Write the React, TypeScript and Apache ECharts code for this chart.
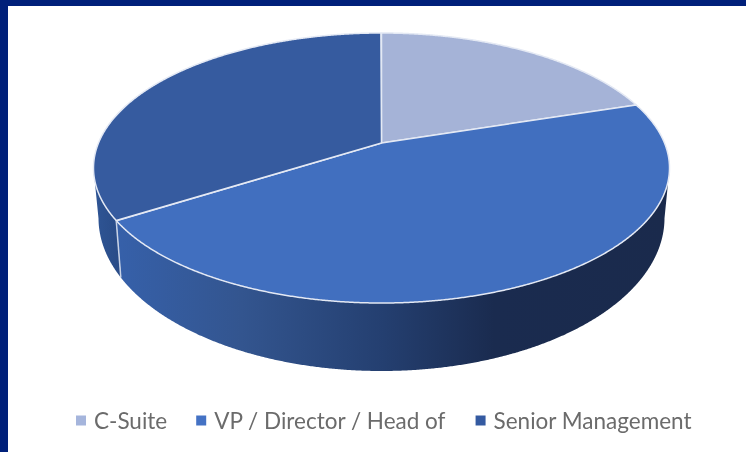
import React, { useEffect, useRef } from "react";
import * as echarts from "echarts";

const categories = ["C-Suite", "VP / Director / Head of", "Senior Management"];
const shares = [20, 46, 34];
const topColors = ["#a5b3d7", "#416fbf", "#365b9f"];
const legendColors = ["#a5b5dc", "#4472c4", "#345aa1"];

const CX = 381.5, CY = 168, RX = 288, RY = 135;
const BCY = 218, BRX = 283, BRY = 153;
const K = 25 / 135;
const S = Math.sqrt(1 - K * K);

function project(deg: number) {
  const a = (deg * Math.PI) / 180;
  const x = Math.sin(a), y = Math.cos(a);
  const d = 1 + K * y;
  return { X: (x * S) / d, Y: (y + K) / d };
}
const topPt = (p: any) => [CX + RX * p.X, CY - RY * p.Y];
const botPt = (p: any) => [CX + BRX * p.X, BCY - BRY * p.Y];

const wallFill = (i: number) =>
  i === 1
    ? new echarts.graphic.LinearGradient(120, 0, 670, 0, [
        { offset: 0, color: "#3660a9" },
        { offset: 0.22, color: "#33558f" },
        { offset: 0.48, color: "#243f70" },
        { offset: 0.68, color: "#1a2b4f" },
        { offset: 1, color: "#1a2a4c" },
      ], true)
    : new echarts.graphic.LinearGradient(94, 0, 124, 0, [
        { offset: 0, color: "#2f5595" },
        { offset: 1, color: "#284a85" },
      ], true);

function makeRender(i: number) {
  return (_params: any, api: any) => {
    const share = api.value(0) as number;
    const before = api.value(1) as number;
    const total = shares.reduce((a, b) => a + b, 0);
    const start = (before / total) * 360;
    const end = ((before + share) / total) * 360;
    const samples: any[] = [];
    for (let t = start; t <= end + 1e-6; t += 0.25) samples.push(project(t));
    const apex = [CX, CY - K * RY];
    const children: any[] = [];
    const front = samples.filter((p) => p.Y <= 0);
    if (front.length > 1) {
      children.push({
        type: "polygon",
        shape: { points: [...front.map(topPt), ...front.slice().reverse().map(botPt)] },
        style: { fill: wallFill(i), stroke: null },
      });
      if (samples[0].Y <= 0) {
        children.push({
          type: "line",
          shape: {
            x1: topPt(samples[0])[0], y1: topPt(samples[0])[1],
            x2: botPt(samples[0])[0], y2: botPt(samples[0])[1],
          },
          style: { stroke: "#c9d3e6", lineWidth: 1.5 },
        });
      }
    }
    children.push({
      type: "polygon",
      shape: { points: [apex, ...samples.map(topPt)] },
      style: { fill: topColors[i], stroke: "#e4e9f4", lineWidth: 1.5, lineJoin: "round" },
    });
    return { type: "group", children };
  };
}

export default function App() {
  const ref = useRef<HTMLDivElement>(null);
  useEffect(() => {
    const chart = echarts.init(ref.current!, null, { renderer: "svg" });
    let running = 0;
    chart.setOption({
      animation: false,
      backgroundColor: "#ffffff",
      graphic: [
        { type: "rect", shape: { x: 0, y: 0, width: 746, height: 6 }, style: { fill: "#00207a" }, silent: true },
        { type: "rect", shape: { x: 0, y: 0, width: 8, height: 452 }, style: { fill: "#00207a" }, silent: true },
      ],
      legend: {
        data: categories,
        left: 76,
        top: 409,
        icon: "rect",
        itemWidth: 10,
        itemHeight: 10,
        itemGap: 29,
        padding: 0,
        selectedMode: false,
        textStyle: { fontFamily: "Lato", fontSize: 22.5, color: "#6b6b6b", padding: [0, 0, 0, 3] },
      },
      series: categories.map((name, i) => {
        const before = running;
        running += shares[i];
        return {
          type: "custom",
          name,
          coordinateSystem: "none",
          itemStyle: { color: legendColors[i] },
          renderItem: makeRender(i),
          data: [[shares[i], before]],
        };
      }),
    });
    return () => chart.dispose();
  }, []);
  return (
    <div
      ref={ref}
      style={{ position: "absolute", left: 0, top: 0, width: 746, height: 452, filter: "blur(0.4px)" }}
    />
  );
}
